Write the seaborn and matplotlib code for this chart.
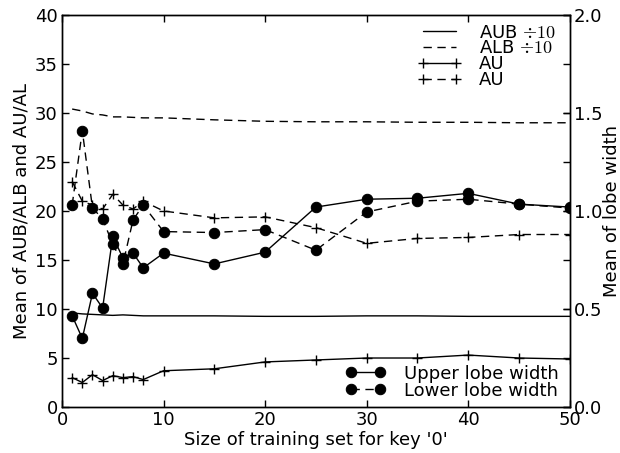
import matplotlib
matplotlib.use("Agg")
import matplotlib.pyplot as plt
import seaborn as sns
import numpy as np

sns.set_theme(style="white")
plt.rcParams['font.family'] = ['DejaVu Sans']
plt.rcParams['mathtext.fontset'] = 'cm'
plt.rcParams['lines.dashed_pattern'] = [6.0, 4.0]
for key in ('text.color', 'axes.labelcolor', 'xtick.color', 'ytick.color'):
    plt.rcParams[key] = 'black'

sizes = [1, 2, 3, 4, 5, 6, 7, 8, 10, 15, 20, 25, 30, 35, 40, 45, 50]
aub_div10 = [9.6, 9.5, 9.45, 9.4, 9.35, 9.4, 9.35, 9.3, 9.3, 9.3, 9.25, 9.25, 9.3, 9.3, 9.25, 9.25, 9.25]
alb_div10 = [30.4, 30.2, 29.9, 29.8, 29.6, 29.6, 29.55, 29.5, 29.5, 29.3, 29.15, 29.1, 29.1, 29.05, 29.05, 29.0, 29.0]
au_solid = [3.0, 2.5, 3.3, 2.7, 3.2, 3.0, 3.1, 2.8, 3.7, 3.9, 4.6, 4.8, 5.0, 5.0, 5.3, 5.0, 4.9]
au_dashed = [23.0, 21.0, 20.6, 20.2, 21.7, 20.6, 20.2, 21.0, 20.0, 19.3, 19.4, 18.3, 16.7, 17.2, 17.3, 17.6, 17.6]
upper_lobe = [0.465, 0.35, 0.58, 0.505, 0.87, 0.76, 0.785, 0.71, 0.785, 0.73, 0.79, 1.02, 1.06, 1.065, 1.09, 1.035, 1.02]
lower_lobe = [1.03, 1.41, 1.015, 0.96, 0.83, 0.73, 0.955, 1.03, 0.895, 0.89, 0.905, 0.80, 0.995, 1.05, 1.06, 1.035, 1.015]

fig = plt.figure(figsize=(6.2, 4.53), dpi=100)
ax1 = fig.add_axes([0.1, 0.1015, 0.819, 0.8655])
ax2 = ax1.twinx()

k = 'black'
sns.lineplot(x=sizes, y=aub_div10, ax=ax1, color=k, lw=1, label=r'AUB $\div 10$')
sns.lineplot(x=sizes, y=alb_div10, ax=ax1, color=k, lw=1, linestyle='--', label=r'ALB $\div 10$')
sns.lineplot(x=sizes, y=au_solid, ax=ax1, color=k, lw=1, marker='+', markersize=7.5,
             markeredgewidth=1, markeredgecolor=k, label='AU')
sns.lineplot(x=sizes, y=au_dashed, ax=ax1, color=k, lw=1, linestyle='--', marker='+', markersize=7.5,
             markeredgewidth=1, markeredgecolor=k, label='AU')

sns.lineplot(x=sizes, y=upper_lobe, ax=ax2, color=k, lw=1, marker='o', markersize=7.5,
             markeredgecolor=k, markerfacecolor=k, label='Upper lobe width')
sns.lineplot(x=sizes, y=lower_lobe, ax=ax2, color=k, lw=1, linestyle='--', marker='o', markersize=7.5,
             markeredgecolor=k, markerfacecolor=k, label='Lower lobe width')

ax1.set_xlim(0, 50)
ax1.set_ylim(0, 40)
ax2.set_ylim(0, 2.0)
ax1.set_xticks([0, 10, 20, 30, 40, 50])
ax1.set_yticks(np.arange(0, 41, 5))
ax2.set_yticks([0.0, 0.5, 1.0, 1.5, 2.0])
ax2.set_yticklabels(['0.0', '0.5', '1.0', '1.5', '2.0'])

fs = 13
ax1.set_xlabel("Size of training set for key '0'", fontsize=fs, labelpad=1)
ax1.set_ylabel("Mean of AUB/ALB and AU/AL", fontsize=fs, labelpad=3)
ax2.set_ylabel("Mean of lobe width", fontsize=fs, labelpad=0)

ax1.tick_params(axis='both', direction='in', length=5, width=1, labelsize=fs,
                top=True, right=True, bottom=True, left=True, pad=3)
ax2.tick_params(axis='y', direction='in', length=5, width=1, labelsize=fs, right=True, pad=3)

for ax in (ax1, ax2):
    for s in ax.spines.values():
        s.set_color('black')
        s.set_linewidth(1)

ax1.legend(loc='upper right', bbox_to_anchor=(0.984, 0.992), frameon=False, fontsize=fs,
           handlelength=2.4, numpoints=2, borderaxespad=0.0, borderpad=0.3,
           labelspacing=-0.12, handletextpad=1.0)
ax2.legend(loc='lower right', bbox_to_anchor=(0.988, 0.005), frameon=False, fontsize=fs,
           handlelength=2.2, numpoints=2, borderaxespad=0.0, borderpad=0.3,
           labelspacing=-0.05, handletextpad=1.0)

fig.savefig('out.png', dpi=100)
